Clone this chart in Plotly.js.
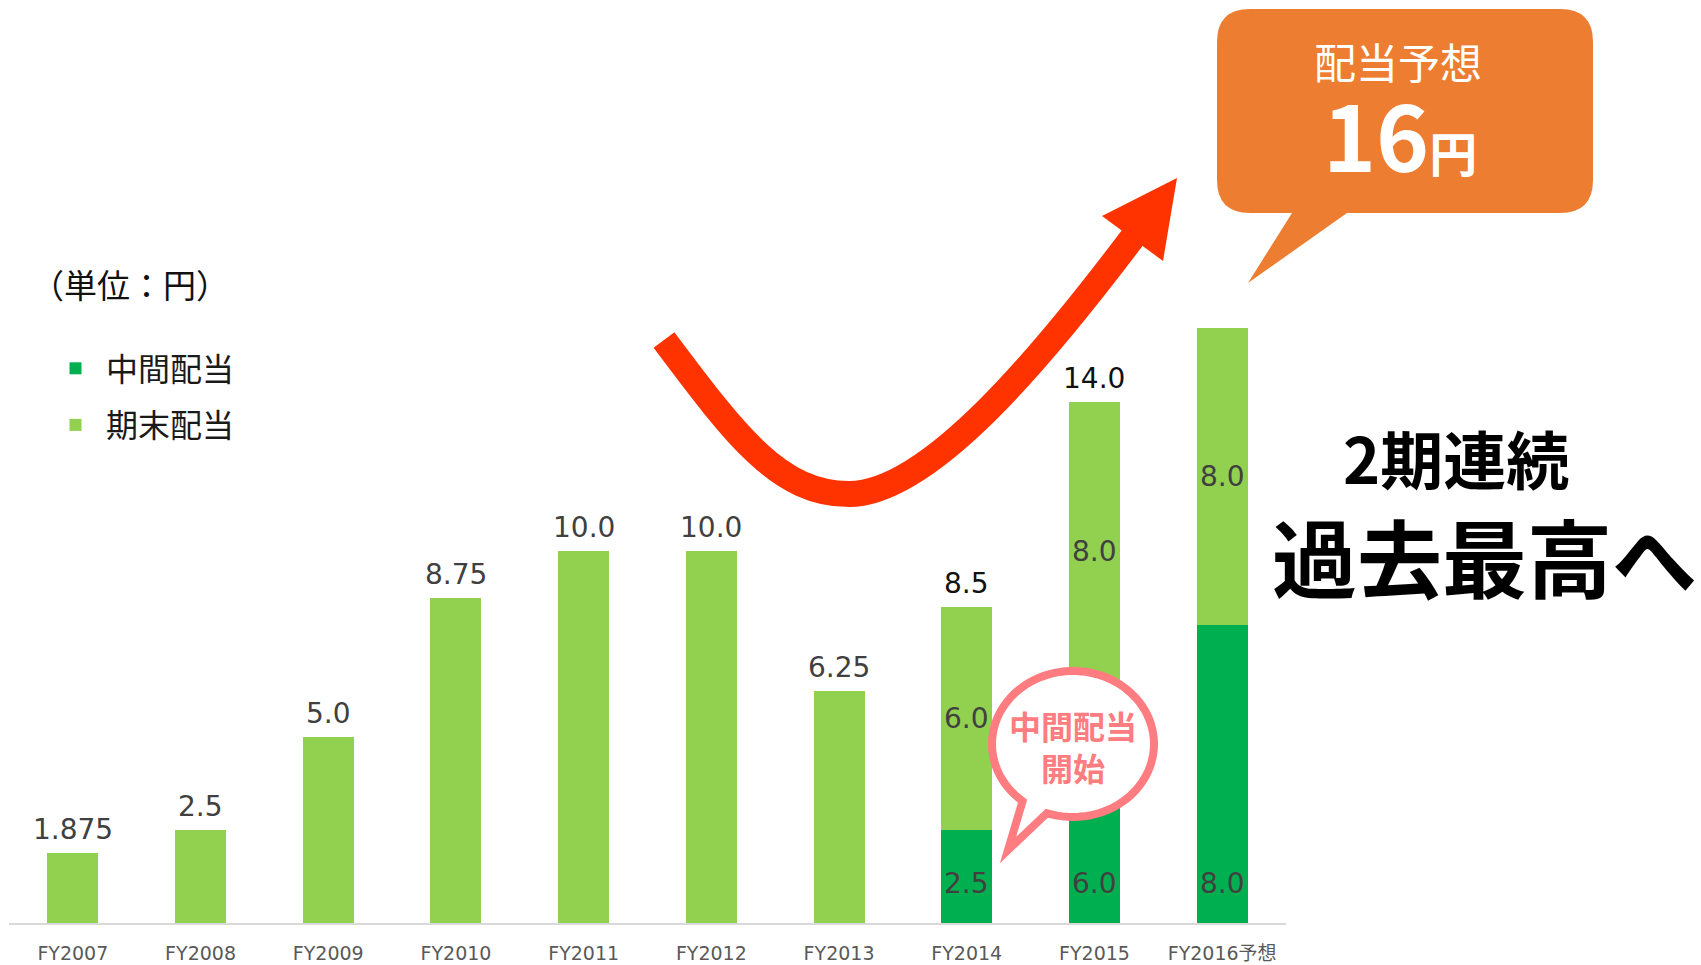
<!DOCTYPE html>
<html><head><meta charset="utf-8">
<script src="https://cdn.plot.ly/plotly-3.0.1.min.js"></script>
<style>html,body{margin:0;padding:0;background:#fff}</style>
</head><body>
<div id="chart" style="width:1701px;height:965px"></div>
<script>
// ---- data ----
const categories = ['FY2007','FY2008','FY2009','FY2010','FY2011','FY2012','FY2013','FY2014','FY2015','FY2016予想'];
const interimDividend = [0,0,0,0,0,0,0,2.5,6.0,8.0];
const yearEndDividend = [1.875,2.5,5.0,8.75,10.0,10.0,6.25,6.0,8.0,8.0];
const totalLabels = ['1.875','2.5','5.0','8.75','10.0','10.0','6.25','8.5','14.0',''];
const interimLabels = ['','','','','','','','2.5','6.0','8.0'];
const yearEndLabels = ['','','','','','','','6.0','8.0','8.0'];
const seriesNames = ['中間配当','期末配当'];

// ---- styling ----
const CJK = '"Noto Sans CJK JP", sans-serif';
const NUM = '"DejaVu Sans", "Noto Sans CJK JP", sans-serif';
const DARK = '#00B050', LIGHT = '#92D050';
const W = 1701, H = 965;
const M = {l: 9, r: 415, t: 0, b: 42};
const PW = W - M.l - M.r, PH = H - M.t - M.b;
const px = x => ((x - M.l) / PW).toFixed(5);
const py = y => ((M.t + PH - y) / PH).toFixed(5);
const P = (x, y) => px(x) + ',' + py(y);

const totals = interimDividend.map((v, i) => v + yearEndDividend[i]);

const traces = [
  {type: 'bar', x: categories, y: interimDividend, name: seriesNames[0],
   marker: {color: DARK}, legendgroup: 'g1', hoverinfo: 'skip'},
  {type: 'bar', x: categories, y: yearEndDividend, name: seriesNames[1],
   marker: {color: LIGHT}, legendgroup: 'g2', hoverinfo: 'skip'}
];

const annotations = [];
categories.forEach((c, i) => {
  if (totalLabels[i]) {
    annotations.push({x: c, y: totals[i], xref: 'x', yref: 'y', text: totalLabels[i],
      showarrow: false, yanchor: 'bottom', yshift: 5,
      font: {family: NUM, size: 28, color: (i === 7 || i === 8) ? '#111111' : '#404040'}});
  }
  if (interimLabels[i]) {
    annotations.push({x: c, y: 0, yshift: 40, xref: 'x', yref: 'y', text: interimLabels[i],
      showarrow: false, yanchor: 'middle', font: {family: NUM, size: 28, color: '#404040'}});
  }
  if (yearEndLabels[i]) {
    annotations.push({x: c, y: interimDividend[i] + yearEndDividend[i] / 2, xref: 'x', yref: 'y',
      text: yearEndLabels[i], showarrow: false, yanchor: 'middle',
      font: {family: NUM, size: 28, color: '#404040'}});
  }
});

function txt(x, y, text, font) {
  annotations.push({xref: 'paper', yref: 'paper', x: +px(x), y: +py(y), text, showarrow: false,
    xanchor: 'center', yanchor: 'middle', font});
}
txt(130, 284, '（単位：円）', {family: CJK, size: 33, color: '#111111'});
txt(1398, 60, '配当予想', {family: CJK, size: 42, color: '#ffffff'});
txt(1400, 133, '16<span style="font-size:48px">円</span>', {family: CJK, size: 90, color: '#ffffff', weight: 700});
txt(1456, 457, '2期連続', {family: CJK, size: 63, color: '#000000', weight: 700});
txt(1485, 555, '過去最高へ', {family: CJK, size: 85, color: '#000000', weight: 700});
txt(1073, 746, '中間配当<br>開始', {family: CJK, size: 32, color: '#FF7C80', weight: 700});

// ---- decorative shapes ----
const shapes = [];
// orange callout
(function () {
  const x0 = 1217, x1 = 1593, y0 = 9, y1 = 213, r = 33;
  const d = 'M' + P(x0 + r, y0) + ' L' + P(x1 - r, y0) + ' Q' + P(x1, y0) + ' ' + P(x1, y0 + r) +
    ' L' + P(x1, y1 - r) + ' Q' + P(x1, y1) + ' ' + P(x1 - r, y1) +
    ' L' + P(1347, y1) + ' L' + P(1248, 283) + ' L' + P(1292, y1) +
    ' L' + P(x0 + r, y1) + ' Q' + P(x0, y1) + ' ' + P(x0, y1 - r) +
    ' L' + P(x0, y0 + r) + ' Q' + P(x0, y0) + ' ' + P(x0 + r, y0) + ' Z';
  shapes.push({type: 'path', xref: 'paper', yref: 'paper', path: d, fillcolor: '#ED7D31',
    line: {width: 0}, layer: 'above'});
})();
// red arrow
shapes.push({type: 'path', xref: 'paper', yref: 'paper', layer: 'above',
  path: 'M' + P(664, 340) + ' C' + P(736, 436) + ' ' + P(779, 494) + ' ' + P(849, 494) +
        ' C' + P(929, 494) + ' ' + P(1043, 357) + ' ' + P(1139, 229),
  line: {color: '#FF3300', width: 26}, fillcolor: 'rgba(0,0,0,0)'});
shapes.push({type: 'path', xref: 'paper', yref: 'paper', layer: 'above',
  path: 'M' + P(1177, 178) + ' L' + P(1102, 216) + ' L' + P(1163, 261) + ' Z',
  fillcolor: '#FF3300', line: {width: 0}});
// pink speech bubble
(function () {
  const cx = 1073, cy = 744, rx = 81, ry = 73;
  const a0 = 128.5, a1 = 108.8 + 360;
  let d = '';
  for (let a = a0; a <= a1 + 0.01; a += (a1 - a0) / 90) {
    const t = a * Math.PI / 180;
    d += (d ? ' L' : 'M') + P(cx + rx * Math.cos(t), cy + ry * Math.sin(t));
  }
  d += ' L' + P(1008, 850) + ' Z';
  shapes.push({type: 'path', xref: 'paper', yref: 'paper', path: d, layer: 'above',
    fillcolor: '#ffffff', line: {color: '#FF7C80', width: 8}});
})();

const layout = {
  width: W, height: H, margin: M,
  paper_bgcolor: '#ffffff', plot_bgcolor: '#ffffff',
  barmode: 'stack', bargap: 0.6,
  showlegend: true,
  legend: {x: +px(45), y: +py(341), xanchor: 'left', yanchor: 'top',
    font: {family: CJK, size: 32, color: '#1a1a1a'},
    traceorder: 'grouped', tracegroupgap: 12, bgcolor: 'rgba(0,0,0,0)', itemwidth: 51},
  xaxis: {type: 'category', showline: true, linecolor: '#D9D9D9', linewidth: 2,
    ticks: '', showgrid: false, zeroline: false, fixedrange: true,
    tickfont: {family: NUM, size: 19, color: '#595959'}, ticklabelstandoff: 12},
  yaxis: {range: [0, PH / 37.2], visible: false, showgrid: false, zeroline: false, fixedrange: true},
  annotations, shapes
};

Plotly.newPlot('chart', traces, layout, {displayModeBar: false, staticPlot: true});
</script>
</body></html>
